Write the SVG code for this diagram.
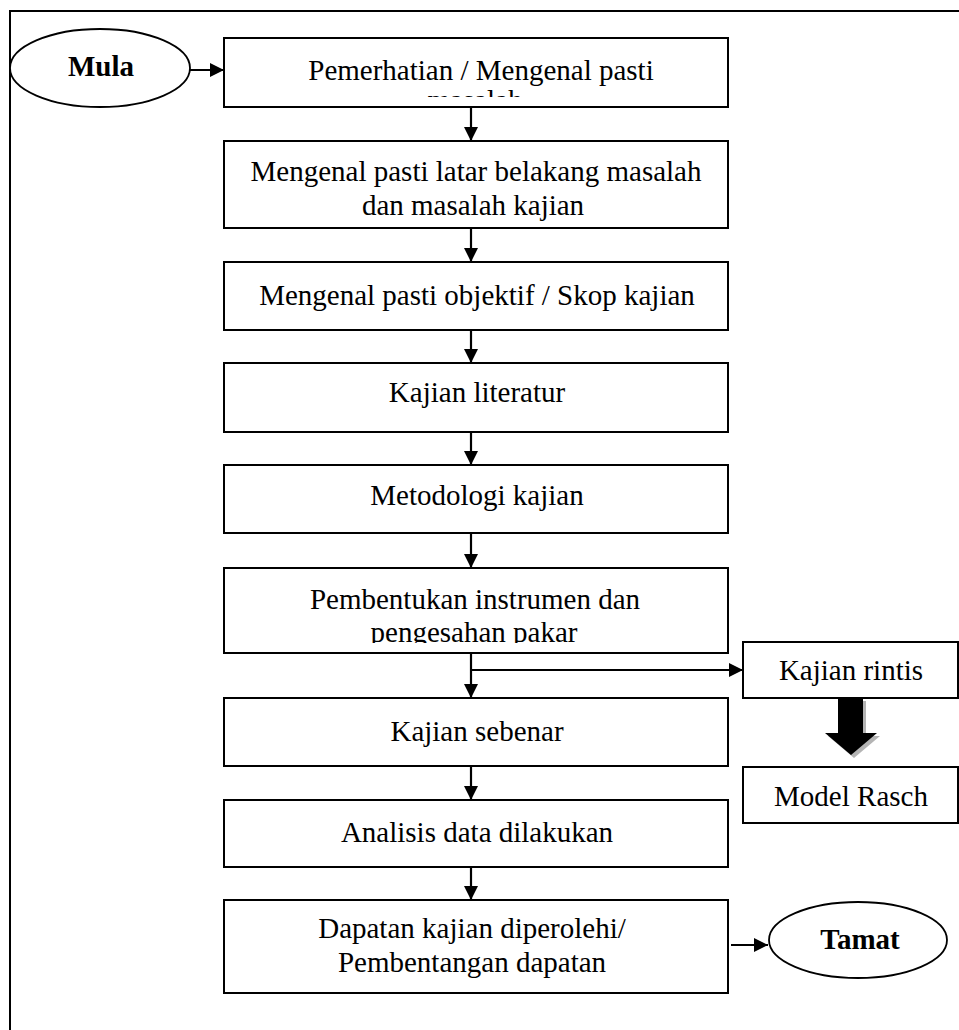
<svg xmlns="http://www.w3.org/2000/svg" width="959" height="1030" viewBox="0 0 959 1030">
  <defs>
    <style>
      .box { fill: #fff; stroke: #000; stroke-width: 2; }
      .term { fill: #fff; stroke: #000; stroke-width: 1.8; }
      .lbl { font-family: "Liberation Serif", "Times New Roman", serif; font-size: 29px; fill: #000; text-anchor: middle; }
      .bold { font-weight: bold; }
      .wire { fill: none; stroke: #000; stroke-width: 2.2; }
    </style>
    <marker id="head" viewBox="0 0 14 14" refX="14" refY="7" markerWidth="14" markerHeight="14" markerUnits="userSpaceOnUse" orient="auto">
      <path d="M0,0 L14,7 L0,14 Z" fill="#000"/>
    </marker>
    <clipPath id="clip-first">
      <rect x="224" y="38" width="504" height="59"/>
    </clipPath>
    <clipPath id="clip-instr">
      <rect x="224" y="568" width="504" height="75"/>
    </clipPath>
  </defs>

  <rect width="959" height="1030" fill="#fff"/>

  <!-- page frame (runs off the right and bottom edges) -->
  <path d="M10,1040 L10,11 L970,11" fill="none" stroke="#000" stroke-width="2"/>

  <!-- connectors -->
  <g id="connectors">
    <path class="wire" d="M190,70 L224,70" marker-end="url(#head)"/>
    <path class="wire" d="M471,107 L471,141" marker-end="url(#head)"/>
    <path class="wire" d="M471,228 L471,262" marker-end="url(#head)"/>
    <path class="wire" d="M471,330 L471,363" marker-end="url(#head)"/>
    <path class="wire" d="M471,432 L471,465" marker-end="url(#head)"/>
    <path class="wire" d="M471,533 L471,568" marker-end="url(#head)"/>
    <path class="wire" d="M471,653 L471,698" marker-end="url(#head)"/>
    <path class="wire" d="M471,670 L743,670" marker-end="url(#head)"/>
    <path class="wire" d="M471,766 L471,800" marker-end="url(#head)"/>
    <path class="wire" d="M471,867 L471,900" marker-end="url(#head)"/>
    <path class="wire" d="M731,945 L768,945" marker-end="url(#head)"/>
    <!-- block arrow from pilot study to Rasch model, with drop shadow -->
    <path d="M841,701 L866,701 L866,736 L880,736 L854,758 L828,736 L841,736 Z" fill="#b4b4b4"/>
    <path d="M838,698 L863,698 L863,733 L877,733 L851,755 L825,733 L838,733 Z" fill="#000"/>
  </g>

  <g id="mula">
    <ellipse class="term" cx="100" cy="68" rx="90" ry="39"/>
    <text class="lbl bold" x="101" y="76">Mula</text>
  </g>

  <g id="pemerhatian">
    <rect class="box" x="224" y="38" width="504" height="69"/>
    <g clip-path="url(#clip-first)">
      <text class="lbl" x="481" y="80">Pemerhatian / Mengenal pasti</text>
      <text class="lbl" x="475" y="110">masalah</text>
    </g>
  </g>

  <g id="latar-belakang">
    <rect class="box" x="224" y="141" width="504" height="87"/>
    <text class="lbl" x="476" y="181">Mengenal pasti latar belakang masalah</text>
    <text class="lbl" x="473" y="215">dan masalah kajian</text>
  </g>

  <g id="objektif">
    <rect class="box" x="224" y="262" width="504" height="68"/>
    <text class="lbl" x="477" y="305">Mengenal pasti objektif / Skop kajian</text>
  </g>

  <g id="literatur">
    <rect class="box" x="224" y="363" width="504" height="69"/>
    <text class="lbl" x="477" y="402">Kajian literatur</text>
  </g>

  <g id="metodologi">
    <rect class="box" x="224" y="465" width="504" height="68"/>
    <text class="lbl" x="477" y="505">Metodologi kajian</text>
  </g>

  <g id="instrumen">
    <rect class="box" x="224" y="568" width="504" height="85"/>
    <g clip-path="url(#clip-instr)">
      <text class="lbl" x="475" y="609">Pembentukan instrumen dan</text>
      <text class="lbl" x="474" y="642">pengesahan pakar</text>
    </g>
  </g>

  <g id="kajian-rintis">
    <rect class="box" x="743" y="642" width="215" height="56"/>
    <text class="lbl" x="851" y="680">Kajian rintis</text>
  </g>

  <g id="model-rasch">
    <rect class="box" x="743" y="767" width="215" height="56"/>
    <text class="lbl" x="851" y="806">Model Rasch</text>
  </g>

  <g id="kajian-sebenar">
    <rect class="box" x="224" y="698" width="504" height="68"/>
    <text class="lbl" x="477" y="741">Kajian sebenar</text>
  </g>

  <g id="analisis">
    <rect class="box" x="224" y="800" width="504" height="67"/>
    <text class="lbl" x="477" y="842">Analisis data dilakukan</text>
  </g>

  <g id="dapatan">
    <rect class="box" x="224" y="900" width="504" height="93"/>
    <text class="lbl" x="472" y="938">Dapatan kajian diperolehi/</text>
    <text class="lbl" x="472" y="972">Pembentangan dapatan</text>
  </g>

  <g id="tamat">
    <ellipse class="term" cx="858" cy="940" rx="89" ry="38"/>
    <text class="lbl bold" x="860" y="949">Tamat</text>
  </g>
</svg>
